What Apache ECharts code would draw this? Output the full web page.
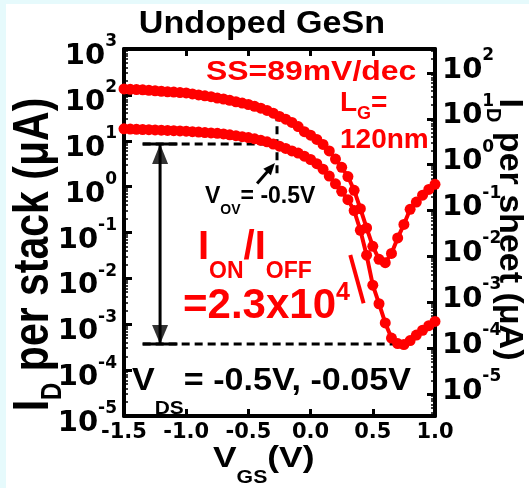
<!DOCTYPE html>
<html>
<head>
<meta charset="utf-8">
<title>Undoped GeSn</title>
<script src="https://cdn.jsdelivr.net/npm/echarts@6/dist/echarts.min.js"></script>
<style>
  html, body { margin: 0; padding: 0; background: #ffffff; }
  #chart { width: 529px; height: 488px; }
</style>
</head>
<body>
<div id="chart"></div>
<script>
// Gate voltage sweep (V)
const vgs = [
  -1.50, -1.45, -1.40, -1.35, -1.30, -1.25, -1.20, -1.15, -1.10, -1.05,
  -1.00, -0.95, -0.90, -0.85, -0.80, -0.75, -0.70, -0.65, -0.60, -0.55,
  -0.50, -0.45, -0.40, -0.35, -0.30, -0.25, -0.20, -0.15, -0.10, -0.05,
   0.00,  0.05,  0.10,  0.15,  0.20,  0.25,  0.30,  0.35,  0.40,  0.45,
   0.50,  0.55,  0.60,  0.65,  0.70,  0.75,  0.80,  0.85,  0.90,  0.95,
   1.00
];

// Drain current per stack (uA), VDS = -0.5 V
const idVds050 = [
  135, 132, 131, 129, 126, 123, 120, 117, 115, 112,
  110, 105, 100, 95.5, 91.2, 85.1, 81.3, 75.9, 70.8, 66.1,
  61.7, 56.2, 51.3, 45.7, 39.8, 33.9, 29.5, 25.1, 20.4, 15.8,
  13.2, 10.7, 8.3, 6.0, 3.98, 2.63, 1.66, 0.83, 0.33, 0.126,
  0.050, 0.026, 0.022, 0.035, 0.076, 0.15, 0.32, 0.46, 0.65, 0.87,
  1.12
];

// Drain current per stack (uA), VDS = -0.05 V
const idVds005 = [
  18.2, 18.0, 17.8, 17.6, 17.4, 17.2, 17.0, 16.8, 16.6, 16.4,
  16.2, 15.8, 15.5, 15.1, 14.8, 14.5, 14.1, 13.5, 12.9, 12.3,
  11.7, 11.0, 10.2, 9.5, 8.5, 7.6, 6.8, 6.0, 5.4, 4.6,
  3.9, 3.16, 2.40, 1.70, 1.15, 0.79, 0.52, 0.30, 0.112, 0.032,
  0.0071, 0.0028, 0.00107, 0.00050, 0.00038, 0.00036, 0.00044, 0.00058, 0.00074, 0.00093,
  0.00115
];

// Axis ranges
const vgsTicks = [-1.5, -1.0, -0.5, 0.0, 0.5, 1.0];
const stackDecades = [-5, 3];          // left axis: 10^-5 .. 10^3 uA per stack
const SHEETS_PER_STACK = 3;            // right axis = per-sheet current

// On/off extraction
const I_ON = 8.5;                      // uA, read at the overdrive point
const ON_OFF_RATIO = [2.3, 4];         // 2.3 x 10^4
const I_OFF = I_ON / (ON_OFF_RATIO[0] * Math.pow(10, ON_OFF_RATIO[1]));
const V_ON = -0.27;                    // V, overdrive marker position
const vovSpan = [1.95, 38.9];          // vertical dashed marker extent (uA)
const guideStart = [-1.35, -1.07];     // solid caps of the guide lines (V)
const offGuideEnd = 0.665;             // V
const ratioArrowV = -1.21;             // V
const vovPointer = [[-0.43, 1.17], [-0.318, 2.62]];
const ssSlash = [[0.319, 0.0324], [0.426, 0.00288]];

const RED = '#ff0000';
const BLACK = '#000000';
const ARIAL = '"Liberation Sans", Arial, Helvetica, sans-serif';
const DEJAVU = '"DejaVu Sans", sans-serif';

function pairs(xs, ys) { return xs.map(function (x, i) { return [x, ys[i]]; }); }

function decadeLabel(v) {
  const e = Math.log10(v);
  const r = Math.round(e);
  if (Math.abs(e - r) > 1e-6) return '';
  return '{b|10}{s|' + r + '}';
}

// rich-text token: the line box grows to the largest lineHeight,
// 'top' tokens hug the top of the box, 'bottom' tokens sit on its floor
function tok(size, lineHeight, align, color) {
  return {
    fontFamily: ARIAL, fontWeight: 'bold', fontSize: size,
    lineHeight: lineHeight, verticalAlign: align, fill: color
  };
}

function guide(data, dashed, width) {
  return {
    type: 'line', data: data, symbol: 'none', silent: true, z: 4,
    lineStyle: { color: BLACK, width: width || 3, type: dashed ? [8, 5] : 'solid' }
  };
}

function curve(name, ys) {
  return {
    name: name, type: 'line', data: pairs(vgs, ys), z: 5,
    symbol: 'circle', symbolSize: 11, showAllSymbol: true,
    itemStyle: { color: RED }, lineStyle: { color: RED, width: 4 }
  };
}

const axisLineStyle = { color: BLACK, width: 4 };

const decadeRich = {
  b: { fontFamily: DEJAVU, fontWeight: 'bold', fontSize: 29, lineHeight: 37.5, verticalAlign: 'bottom', color: BLACK },
  s: { fontFamily: DEJAVU, fontWeight: 'bold', fontSize: 17, lineHeight: 17, verticalAlign: 'top', color: BLACK }
};

const chart = echarts.init(document.getElementById('chart'), null, { renderer: 'canvas' });

chart.setOption({
  backgroundColor: '#ffffff',
  animation: false,
  grid: { left: 124, right: 94, top: 49, bottom: 72, containLabel: false },
  xAxis: [
    {
      type: 'value', position: 'bottom',
      min: vgsTicks[0], max: vgsTicks[vgsTicks.length - 1], interval: 0.5,
      axisLine: { onZero: false, lineStyle: axisLineStyle },
      axisTick: { inside: true, length: 7, lineStyle: { color: BLACK, width: 3 } },
      splitLine: { show: false },
      axisLabel: {
        margin: 6, color: BLACK, fontFamily: DEJAVU, fontWeight: 'bold', fontSize: 21, lineHeight: 21,
        formatter: function (v) { return v.toFixed(1); }
      }
    },
    {
      type: 'value', position: 'top',
      min: vgsTicks[0], max: vgsTicks[vgsTicks.length - 1], interval: 0.5,
      axisLine: { onZero: false, lineStyle: axisLineStyle },
      axisTick: { inside: true, length: 7, lineStyle: { color: BLACK, width: 3 } },
      splitLine: { show: false },
      axisLabel: { show: false }
    }
  ],
  yAxis: [
    {
      type: 'log', logBase: 10, position: 'left',
      min: Math.pow(10, stackDecades[0]), max: Math.pow(10, stackDecades[1]),
      axisLine: { show: true, onZero: false, lineStyle: axisLineStyle },
      axisTick: { show: true, inside: true, length: 8, lineStyle: { color: BLACK, width: 3 } },
      minorTick: { show: true, splitNumber: 9, length: 4, lineStyle: { color: BLACK, width: 1.5 } },
      splitLine: { show: false },
      axisLabel: {
        margin: 7, color: BLACK, formatter: decadeLabel,
        padding: [6.5, 0, 0, 0], rich: decadeRich
      }
    },
    {
      type: 'log', logBase: 10, position: 'right',
      min: Math.pow(10, stackDecades[0]) / SHEETS_PER_STACK,
      max: Math.pow(10, stackDecades[1]) / SHEETS_PER_STACK,
      axisLine: { show: true, onZero: false, lineStyle: axisLineStyle },
      axisTick: { show: true, inside: true, length: 8, lineStyle: { color: BLACK, width: 3 } },
      minorTick: { show: true, splitNumber: 9, length: 4, lineStyle: { color: BLACK, width: 1.5 } },
      splitLine: { show: false },
      axisLabel: {
        margin: 7, color: BLACK, formatter: decadeLabel,
        padding: [0, 0, 14.5, 0], rich: decadeRich
      }
    }
  ],
  series: [
    guide([[guideStart[0], I_ON], [V_ON, I_ON]], true),
    guide([[guideStart[0], I_OFF], [offGuideEnd, I_OFF]], true),
    guide([[guideStart[0], I_ON], [guideStart[1], I_ON]], false),
    guide([[guideStart[0], I_OFF], [guideStart[1], I_OFF]], false),
    Object.assign(guide([[V_ON, vovSpan[0]], [V_ON, vovSpan[1]]], true), {
      markLine: {
        silent: true, animation: false,
        symbol: ['none', 'triangle'], symbolSize: [10, 12],
        label: { show: false },
        lineStyle: { color: BLACK, width: 3, type: 'solid' },
        emphasis: { disabled: true },
        data: [[{ coord: vovPointer[0] }, { coord: vovPointer[1] }]]
      }
    }),
    guide([[ratioArrowV, I_ON], [ratioArrowV, I_OFF]], false),
    {
      type: 'scatter', silent: true, z: 4,
      data: [[ratioArrowV, I_ON]], symbol: 'triangle', symbolSize: [16, 20], symbolOffset: [0, '50%'],
      itemStyle: { color: BLACK }
    },
    {
      type: 'scatter', silent: true, z: 4,
      data: [[ratioArrowV, I_OFF]], symbol: 'triangle', symbolSize: [16, 19], symbolRotate: 180, symbolOffset: [0, '-50%'],
      itemStyle: { color: BLACK }
    },
    {
      type: 'line', silent: true, z: 6, symbol: 'none', data: ssSlash,
      lineStyle: { color: RED, width: 4 }
    },
    curve('VDS = -0.5V', idVds050),
    curve('VDS = -0.05V', idVds005)
  ],
  graphic: [
    { type: 'rect', silent: true, z: -10, shape: { x: 0, y: 0, width: 529, height: 4 }, style: { fill: '#e6fafc' } },
    { type: 'rect', silent: true, z: -10, shape: { x: 0, y: 0, width: 6, height: 488 }, style: { fill: '#e6fafc' } },
    {
      type: 'text', silent: true, z: 100, x: 262, y: 24.5, scaleX: 1.1,
      style: { text: 'Undoped GeSn', fill: BLACK, font: 'bold 31px ' + ARIAL, align: 'center', verticalAlign: 'middle' }
    },
    {
      type: 'text', silent: true, z: 100, x: 206, y: 72.5, scaleX: 1.14,
      style: { text: 'SS=89mV/dec', fill: RED, font: 'bold 28px ' + ARIAL, align: 'left', verticalAlign: 'middle' }
    },
    {
      type: 'text', silent: true, z: 100, x: 340, y: 89.5,
      style: {
        text: '{m|L}{s|G}{m|=}', align: 'left', verticalAlign: 'top', fill: RED,
        rich: { m: tok(28, 28, 'top', RED), s: tok(18, 33.5, 'bottom', RED) }
      }
    },
    {
      type: 'text', silent: true, z: 100, x: 340, y: 140.5,
      style: { text: '120nm', fill: RED, font: 'bold 28px ' + ARIAL, align: 'left', verticalAlign: 'middle' }
    },
    {
      type: 'text', silent: true, z: 100, x: 205, y: 185,
      style: {
        text: '{m|V}{s|OV}{m|= -0.5V}', align: 'left', verticalAlign: 'top', fill: BLACK,
        rich: { m: tok(23, 23, 'top', BLACK), s: tok(14, 32, 'bottom', BLACK) }
      }
    },
    {
      type: 'text', silent: true, z: 100, x: 198, y: 228.3,
      style: {
        text: '{m|I}{s|ON}{m|/I}{s|OFF}', align: 'left', verticalAlign: 'top', fill: RED,
        rich: { m: tok(40, 40, 'top', RED), s: tok(23, 55.2, 'bottom', RED) }
      }
    },
    {
      type: 'text', silent: true, z: 100, x: 183, y: 280.5,
      style: {
        text: '{m|=' + ON_OFF_RATIO[0].toFixed(1) + 'x10}{p|' + ON_OFF_RATIO[1] + '}',
        align: 'left', verticalAlign: 'top', fill: RED,
        rich: { m: tok(42, 46.5, 'bottom', RED), p: tok(25, 25, 'top', RED) }
      }
    },
    {
      type: 'text', silent: true, z: 100, x: 132, y: 366, scaleX: 1.1,
      style: {
        text: '{m|V}{s|DS}{m|= -0.5V, -0.05V}', align: 'left', verticalAlign: 'top', fill: BLACK,
        rich: { m: tok(31, 31, 'top', BLACK), s: tok(19, 52, 'bottom', BLACK) }
      }
    },
    {
      type: 'text', silent: true, z: 100, x: 213, y: 443.6, scaleX: 1.18,
      style: {
        text: '{m|V}{s|GS}{m|(V)}', align: 'left', verticalAlign: 'top', fill: BLACK,
        rich: { m: tok(30, 30, 'top', BLACK), s: tok(18, 43.9, 'bottom', BLACK) }
      }
    },
    {
      type: 'text', silent: true, z: 100, x: 9.8, y: 254.5, rotation: Math.PI / 2, scaleY: 1.2,
      style: {
        text: '{m|I}{s|D}{m| per stack (\u03bcA)}', align: 'center', verticalAlign: 'top', fill: BLACK,
        rich: { m: tok(41, 41, 'top', BLACK), s: tok(24, 48.4, 'bottom', BLACK) }
      }
    },
    {
      type: 'text', silent: true, z: 100, x: 526, y: 229.5, rotation: -Math.PI / 2,
      style: {
        text: '{m|I}{s|D}{m| per sheet (\u03bcA)}', align: 'center', verticalAlign: 'top', fill: BLACK,
        rich: { m: tok(34, 34, 'top', BLACK), s: tok(20, 43, 'bottom', BLACK) }
      }
    }
  ]
});
</script>
</body>
</html>
